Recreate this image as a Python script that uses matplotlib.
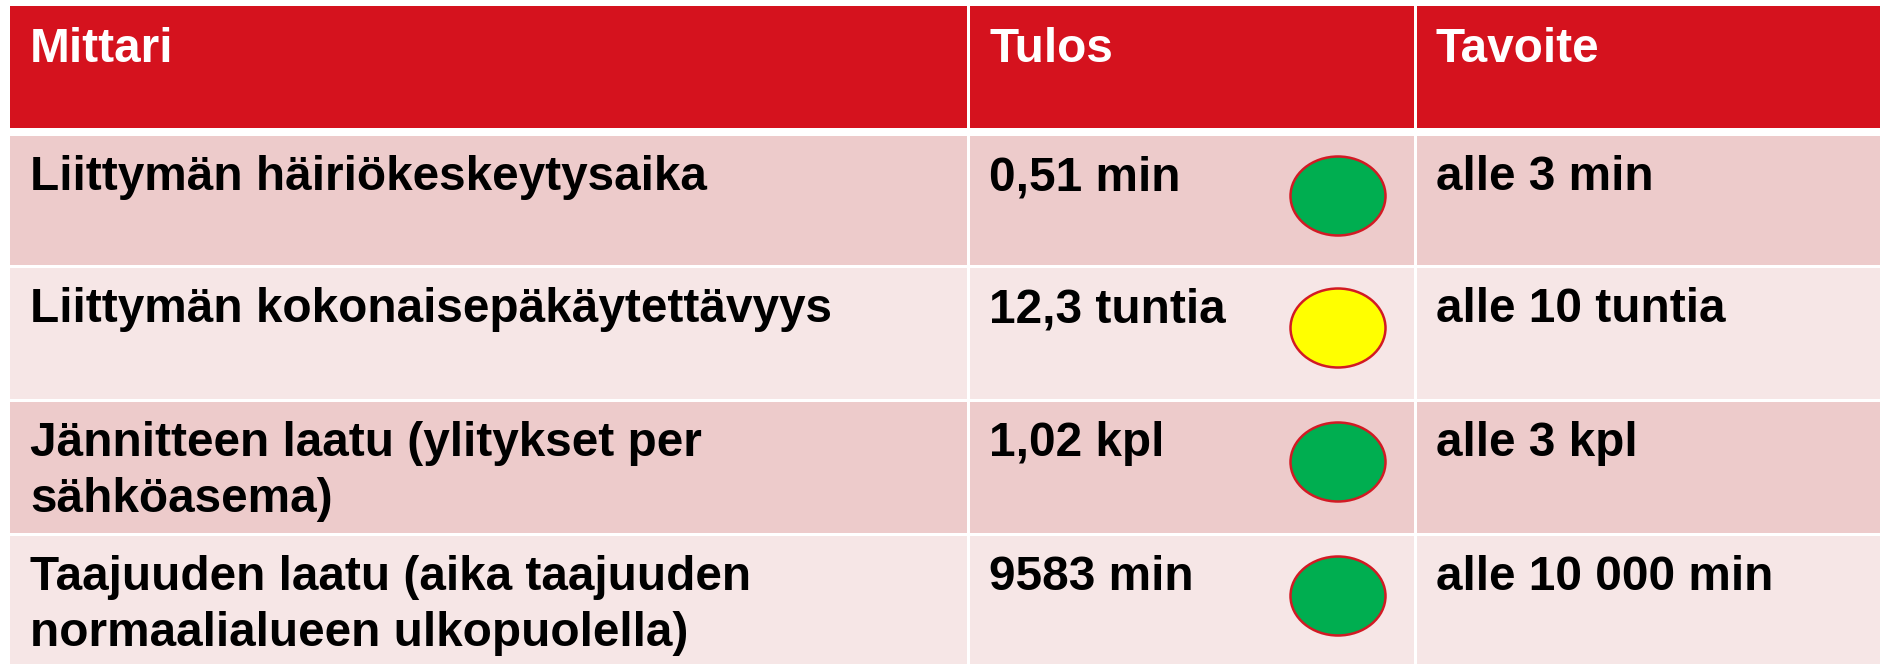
import matplotlib
matplotlib.use("Agg")
import matplotlib.pyplot as plt
from matplotlib.patches import Rectangle, Ellipse

headers = ["Mittari", "Tulos", "Tavoite"]
metrics = ["Liittymän häiriökeskeytysaika",
           "Liittymän kokonaisepäkäytettävyys",
           "Jännitteen laatu (ylitykset per\nsähköasema)",
           "Taajuuden laatu (aika taajuuden\nnormaalialueen ulkopuolella)"]
results = ["0,51 min", "12,3 tuntia", "1,02 kpl", "9583 min"]
targets = ["alle 3 min", "alle 10 tuntia", "alle 3 kpl", "alle 10 000 min"]
status = ["green", "yellow", "green", "green"]

W, H = 1881, 664
fig = plt.figure(figsize=(W / 100, H / 100), dpi=100)
ax = fig.add_axes([0, 0, 1, 1])
ax.set_xlim(0, W)
ax.set_ylim(H, 0)
ax.axis("off")

RED = "#d5121e"
ROW_COLORS = ["#edcbcb", "#f6e6e6"]
STATUS_COLORS = {"green": "#00ae50", "yellow": "#ffff00"}
EDGE = "#d21a24"
FONT = "Liberation Sans"
FS = 34.4

col_edges = [10, 967, 1414, W]
gap = 3
header_top, header_bot = 6, 128
row_tops = [136, 268, 402, 536]
row_bots = [265, 399, 533, H]
pad_x = 20
line_h = 56

# header
for c in range(3):
    x0 = col_edges[c] + (gap if c > 0 else 0)
    ax.add_patch(Rectangle((x0, header_top), col_edges[c + 1] - x0, header_bot - header_top,
                           facecolor=RED, edgecolor="none"))
    ax.text(x0 + pad_x - (0 if c == 0 else 1), 62, headers[c], color="white", fontsize=FS,
            fontweight="bold", family=FONT, va="baseline", ha="left")

# body rows
for r in range(len(metrics)):
    top, bot = row_tops[r], row_bots[r]
    for c in range(3):
        x0 = col_edges[c] + (gap if c > 0 else 0)
        ax.add_patch(Rectangle((x0, top), col_edges[c + 1] - x0, bot - top,
                               facecolor=ROW_COLORS[r % 2], edgecolor="none"))
    base = top + 54
    cells = [metrics[r], results[r], targets[r]]
    for c, txt in enumerate(cells):
        x0 = col_edges[c] + (gap if c > 0 else 0)
        for i, line in enumerate(txt.split("\n")):
            ax.text(x0 + pad_x - (0 if c == 0 else 1), base + i * line_h, line, color="black",
                    fontsize=FS, fontweight="bold", family=FONT, va="baseline", ha="left")
    ax.add_patch(Ellipse((1338, top + 60), 95, 79, facecolor=STATUS_COLORS[status[r]],
                         edgecolor=EDGE, linewidth=1.8))

fig.savefig("out.png", dpi=100, facecolor="white")
